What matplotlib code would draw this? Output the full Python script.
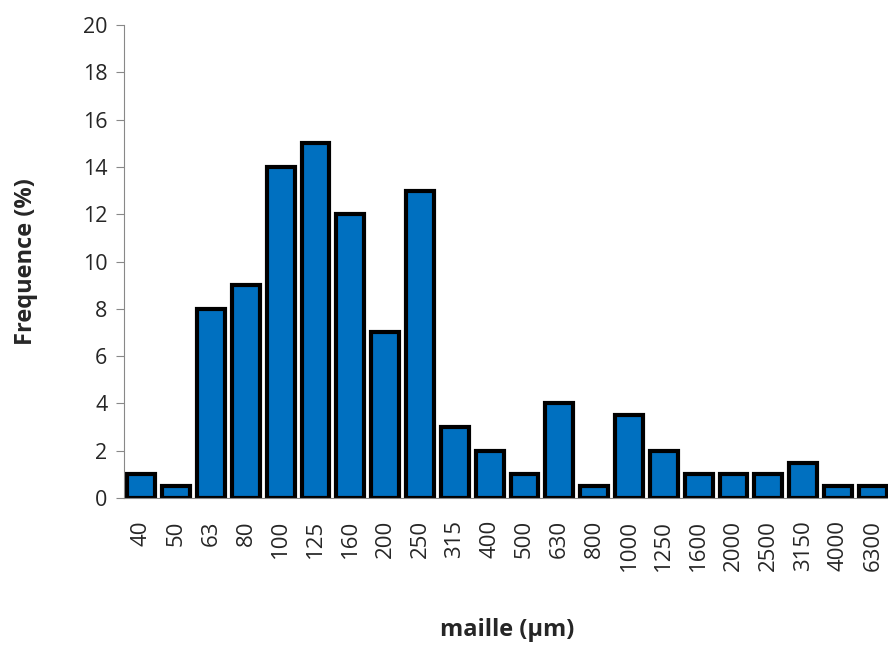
import matplotlib.pyplot as plt
import numpy as np

# mesh sizes (um) and frequency (%)
maille = ['40', '50', '63', '80', '100', '125', '160', '200', '250', '315', '400',
          '500', '630', '800', '1000', '1250', '1600', '2000', '2500', '3150', '4000', '6300']
freq = [1, 0.5, 8, 9, 14, 15, 12, 7, 13, 3, 2, 1, 4, 0.5, 3.5, 2, 1, 1, 1, 1.5, 0.5, 0.5]

plt.rcParams['font.family'] = ['Open Sans', 'DejaVu Sans']

fig = plt.figure(figsize=(8.88, 6.48), dpi=100)
ax = fig.add_axes([0.1396, 0.2315, 0.8630, 0.7299])

x = np.arange(len(maille))
ax.bar(x, freq, width=0.8, color='#0070C0', edgecolor='black', linewidth=3.0)

ax.set_xlim(-0.5, len(maille) - 0.5)
ax.set_ylim(0, 20)
ax.set_yticks(range(0, 21, 2))
ax.set_xticks(x)
ax.set_xticklabels(maille, rotation=90, fontsize=16, color='#262626')
ax.tick_params(axis='x', length=0, pad=16)
ax.tick_params(axis='y', length=6, color='#888888', labelsize=15.5, labelcolor='#262626', pad=6)

for s in ['top', 'right']:
    ax.spines[s].set_visible(False)
ax.spines['left'].set_color('#888888')
ax.spines['bottom'].set_color('#888888')

ax.set_ylabel('Frequence (%)', fontsize=17, fontweight='bold', color='#262626', labelpad=32)
ax.set_xlabel('maille (µm)', fontsize=17, fontweight='bold', color='#262626', labelpad=34)

fig.savefig('out.png', dpi=100)
